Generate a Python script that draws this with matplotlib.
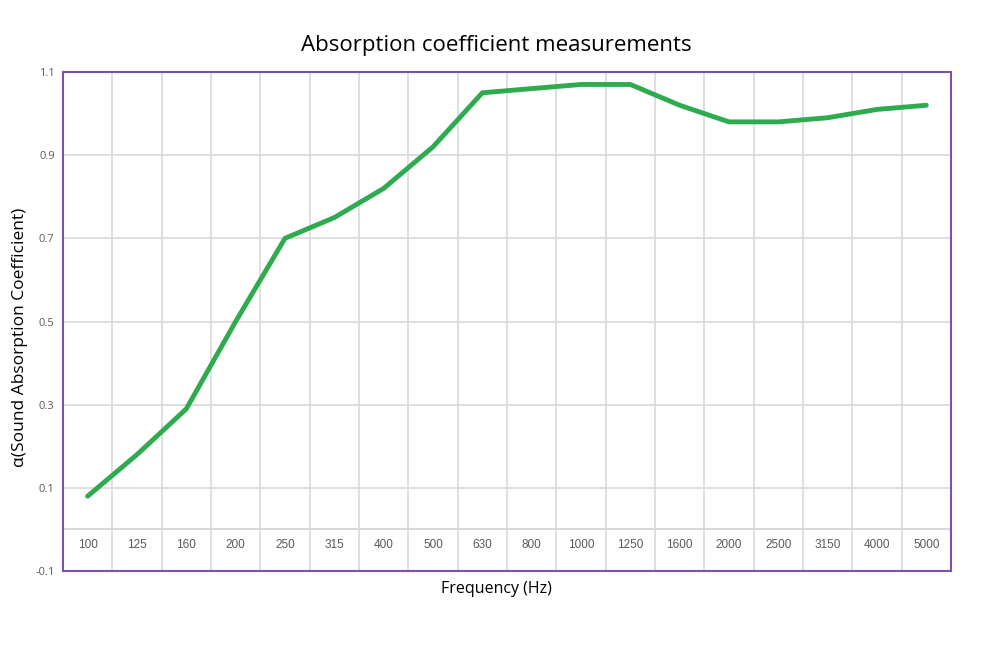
import numpy as np
import matplotlib.pyplot as plt

freqs = ['100', '125', '160', '200', '250', '315', '400', '500', '630', '800',
         '1000', '1250', '1600', '2000', '2500', '3150', '4000', '5000']
alpha = [0.08, 0.18, 0.29, 0.50, 0.70, 0.75, 0.82, 0.92, 1.05, 1.06,
         1.07, 1.07, 1.02, 0.98, 0.98, 0.99, 1.01, 1.02]
yticks = [-0.1, 0.1, 0.3, 0.5, 0.7, 0.9, 1.1]

plt.rcParams['font.family'] = ['Open Sans', 'DejaVu Sans']

fig = plt.figure(figsize=(9.92, 6.45), dpi=100)
ax = fig.add_axes([0.0635, 0.1147, 0.8952, 0.7737])

x = np.arange(len(freqs))
ax.plot(x, alpha, color='#2eaa4f', lw=3.5, solid_capstyle='round', zorder=3)

ax.set_xlim(-0.5, len(freqs) - 0.5)
ax.set_ylim(-0.1, 1.1)

# grid
ax.set_yticks(yticks)
ax.set_yticklabels(['{:.1f}'.format(v) for v in yticks], fontsize=8, color='#595959')
ax.set_xticks(x[:-1] + 0.5)
ax.set_xticklabels([])
ax.tick_params(axis='both', length=0, pad=6)
ax.grid(True, color='#d9d9d9', lw=1.2)
ax.axhline(0, color='#d9d9d9', lw=1.5, zorder=1)

for i, f in enumerate(freqs):
    ax.text(i, -0.037, f, ha='center', va='center', fontsize=8.5, color='#595959',
            family='Liberation Sans')

for s in ax.spines.values():
    s.set_color('#7b52ab')
    s.set_linewidth(1.5)

# titles centred on the figure, not the axes
fig.text(0.5, 1 - 45 / 645, 'Absorption coefficient measurements', fontsize=16,
         ha='center', va='center', color='#000000')
fig.text(0.5, 1 - 589 / 645, 'Frequency (Hz)', fontsize=11.5, ha='center', va='center',
         color='#000000')
fig.text(20 / 992, 1 - 337 / 645, 'α(Sound Absorption Coefficient)', fontsize=12.5,
         rotation=90, ha='center', va='center', color='#000000')

fig.savefig('out.png', dpi=100)
